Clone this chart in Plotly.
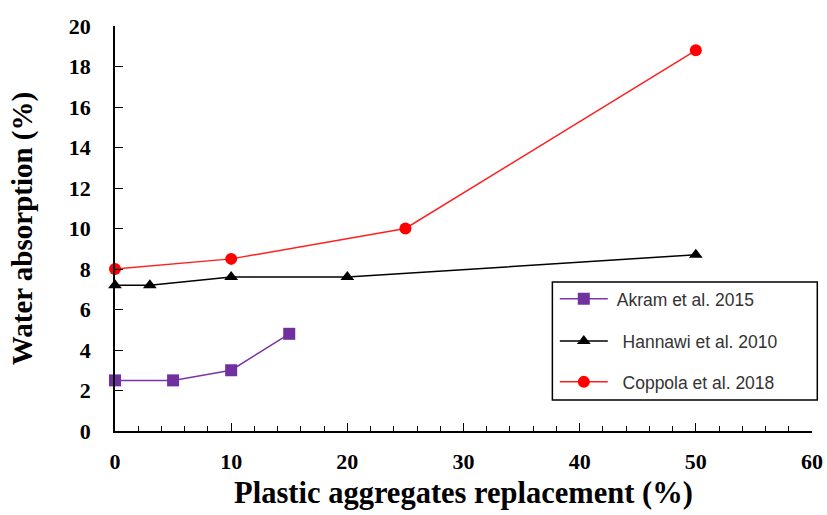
import plotly.graph_objects as go

akram_x = [0, 5, 10, 15]
akram_y = [2.5, 2.5, 3.0, 4.8]
hannawi_x = [0, 3, 10, 20, 50]
hannawi_y = [7.2, 7.2, 7.6, 7.6, 8.7]
coppola_x = [0, 10, 25, 50]
coppola_y = [8.0, 8.5, 10.0, 18.8]

names = [" Akram et al. 2015", "  Hannawi et al. 2010", "  Coppola et al. 2018"]

fig = go.Figure()
fig.add_trace(go.Scatter(x=akram_x, y=akram_y, name=names[0], mode="lines+markers",
                         line=dict(color="#7a35a8", width=1.5),
                         marker=dict(symbol="square", size=12, color="#7030A0"),
                         cliponaxis=False, legend="legend", showlegend=True))
fig.add_trace(go.Scatter(x=hannawi_x, y=hannawi_y, name=names[1], mode="lines+markers",
                         line=dict(color="black", width=1.5),
                         marker=dict(symbol="triangle-up", size=12, color="black"),
                         cliponaxis=False, legend="legend2", showlegend=True))
fig.add_trace(go.Scatter(x=coppola_x, y=coppola_y, name=names[2], mode="lines+markers",
                         line=dict(color="#ff2020", width=1.5),
                         marker=dict(symbol="circle", size=12, color="#ff0000"),
                         cliponaxis=False, legend="legend3", showlegend=True))

serif = "Liberation Serif, Times New Roman, serif"
lfont = dict(family="Liberation Sans, Arial, sans-serif", size=17.5, color="#333333")

def leg(y):
    return dict(x=0.631, y=y, xanchor="left", yanchor="middle", bgcolor="rgba(0,0,0,0)",
                borderwidth=0, font=lfont, itemwidth=48, visible=True)

fig.update_layout(
    width=827, height=515,
    margin=dict(l=115, r=15, t=26, b=84),
    plot_bgcolor="white", paper_bgcolor="white",
    showlegend=True,
    legend=leg(0.326), legend2=leg(0.222), legend3=leg(0.121),
    xaxis=dict(range=[0, 60], tickmode="linear", tick0=0, dtick=10, automargin=False,
               ticks="inside", ticklen=8, tickwidth=1.2, tickcolor="black",
               minor=dict(dtick=2, ticks="inside", ticklen=5, tickwidth=1, tickcolor="black"),
               showline=True, linecolor="black", linewidth=1.5, showgrid=False, zeroline=False,
               tickfont=dict(family=serif, size=22, color="black", weight="bold"),
               ticklabelstandoff=10,
               title=dict(text="Plastic aggregates replacement (%)", standoff=8,
                          font=dict(family=serif, size=30.5, color="black", weight="bold"))),
    yaxis=dict(range=[0, 20], tickmode="linear", tick0=0, dtick=2, automargin=False,
               ticks="inside", ticklen=8, tickwidth=1.2, tickcolor="black",
               showline=True, linecolor="black", linewidth=1.5, showgrid=False, zeroline=False,
               tickfont=dict(family=serif, size=22, color="black", weight="bold"),
               ticklabelstandoff=18,
               title=dict(text="Water absorption (%)", standoff=28,
                          font=dict(family=serif, size=29, color="black", weight="bold"))),
    shapes=[dict(type="rect", xref="paper", yref="paper", x0=0.6275, x1=1.0076, y0=0.0765, y1=0.368,
                 line=dict(color="black", width=1.5), fillcolor="rgba(0,0,0,0)")],
)

fig.write_html("out.html", config={"displayModeBar": False},
               post_script="document.body.style.margin='0';document.body.style.overflow='hidden';")
